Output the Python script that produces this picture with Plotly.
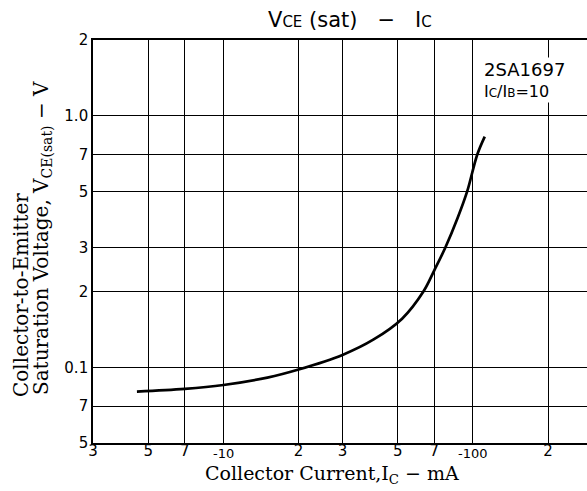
import math
import plotly.graph_objects as go

# Data (Ic in mA magnitude, VCE(sat) in V)
ic_ma = [4.5, 7, 10, 15, 20, 30, 40, 52, 63.3, 70, 77.6, 86.7, 94.8, 104, 111.5]
vce_sat = [0.080, 0.082, 0.085, 0.091, 0.098, 0.112, 0.129, 0.156, 0.20, 0.243, 0.30, 0.391, 0.50, 0.70, 0.826]

x_tickvals = [3, 5, 7, 10, 20, 30, 50, 70, 100, 200, 300]
x_ticktext = ["3", "5", "7", "", "2", "3", "5", "7", "", "2", "3"]
x_low_labels = [10, 100]
x_low_text = ["-10", "-100"]
y_tickvals = [0.05, 0.07, 0.1, 0.2, 0.3, 0.5, 0.7, 1.0, 2.0]
y_ticktext = ["5", "7", "0.1", "2", "3", "5", "7", "1.0", "2"]

W, H = 587, 491
L, R, T, B = 93, 0, 40, 48
pw, ph = W - L - R, H - T - B
PX_PER_DECADE = 249.5

def px_x(p):
    return (p - L) / pw

def px_y(p):
    return (H - B - p) / ph

fig = go.Figure()
fig.add_trace(go.Scatter(
    x=ic_ma, y=vce_sat, mode="lines",
    line=dict(color="black", width=2.7, shape="spline", smoothing=1.0),
    hoverinfo="skip", showlegend=False,
))

sans = "DejaVu Sans, Liberation Sans, sans-serif"
serif = "DejaVu Serif, Liberation Serif, serif"

axis_common = dict(
    showgrid=True, gridcolor="black", gridwidth=1.4,
    showline=True, linecolor="black", linewidth=1.6, mirror=True,
    ticks="", zeroline=False,
    tickfont=dict(family=sans, size=15, color="black"),
)

x0 = math.log10(3)
fig.update_xaxes(type="log", range=[x0, x0 + pw / PX_PER_DECADE],
                 tickvals=x_tickvals, ticktext=x_ticktext,
                 ticklabelstandoff=-7, **axis_common)
fig.update_yaxes(type="log", range=[math.log10(0.05), math.log10(2)],
                 tickvals=y_tickvals, ticktext=y_ticktext,
                 ticklabelstandoff=0, **axis_common)

nb = "\u00a0"
annotations = [
    dict(text=f"V<span style='font-size:15px'>CE</span>{nb}(sat){nb*3}−{nb*3}I<span style='font-size:15px'>C</span>",
         x=px_x(350), y=px_y(20), xref="paper", yref="paper",
         xanchor="center", yanchor="middle", showarrow=False,
         font=dict(family=sans, size=21, color="black")),
    dict(text="<span style='font-size:18px'>2SA1697</span><br>I<span style='font-size:12px'>C</span>/I<span style='font-size:12px'>B</span>=10",
         x=px_x(482), y=px_y(80), xref="paper", yref="paper",
         xanchor="left", yanchor="middle", showarrow=False, align="left",
         bgcolor="white",
         font=dict(family=sans, size=16, color="black")),
    dict(text="Collector Current,I<sub>C</sub> − mA",
         x=px_x(332), y=px_y(474), xref="paper", yref="paper",
         xanchor="center", yanchor="middle", showarrow=False,
         font=dict(family=serif, size=19, color="black")),
    dict(text="Collector-to-Emitter",
         x=px_x(21), y=px_y(295), xref="paper", yref="paper",
         xanchor="center", yanchor="middle", showarrow=False, textangle=-90,
         font=dict(family=serif, size=20, color="black")),
    dict(text="Saturation Voltage, V<sub>CE(sat)</sub> − V",
         x=px_x(42), y=px_y(238), xref="paper", yref="paper",
         xanchor="center", yanchor="middle", showarrow=False, textangle=-90,
         font=dict(family=serif, size=20, color="black")),
]
for v, t in zip(x_low_labels, x_low_text):
    annotations.append(dict(
        text=t, x=math.log10(v), y=px_y(454), xref="x", yref="paper",
        xanchor="center", yanchor="middle", showarrow=False,
        font=dict(family=sans, size=13, color="black")))

fig.update_layout(
    width=W, height=H,
    margin=dict(l=L, r=R, t=T, b=B, autoexpand=False),
    paper_bgcolor="white", plot_bgcolor="white",
    annotations=annotations,
    showlegend=False,
)

fig.write_html(
    "out.html",
    config={"displayModeBar": False},
    post_script="document.body.style.margin='0';document.body.style.overflow='hidden';",
)
